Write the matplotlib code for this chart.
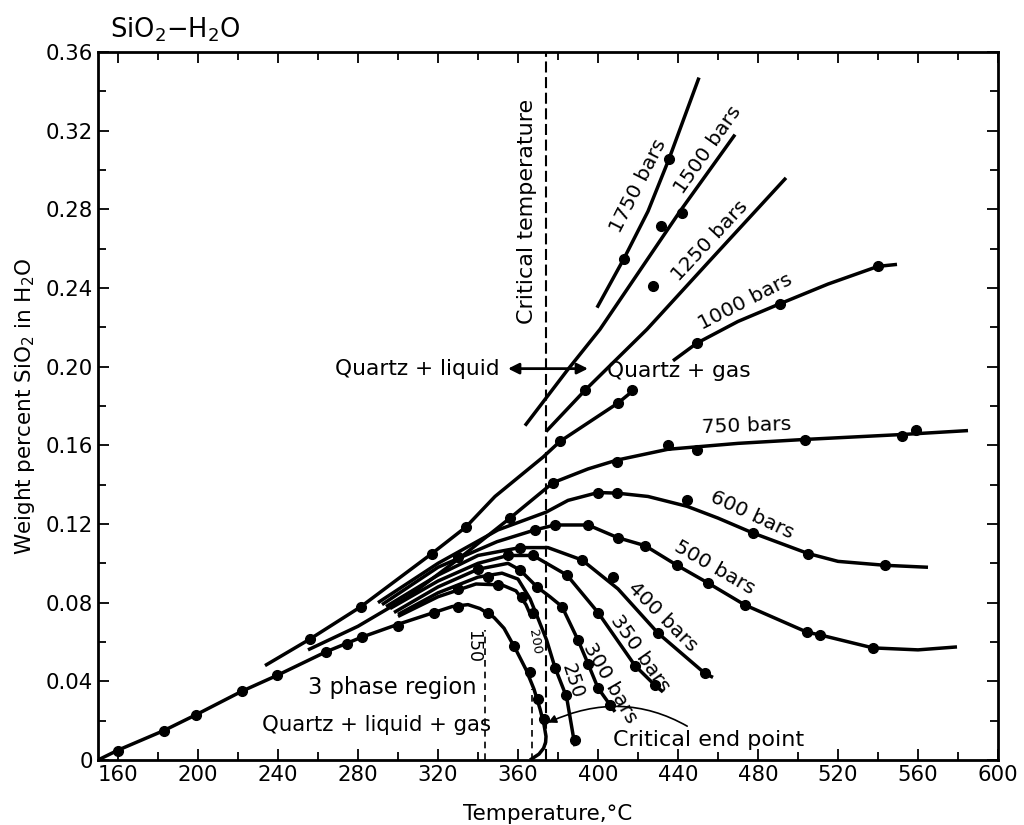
import numpy as np
import matplotlib
matplotlib.use("Agg")
import matplotlib.pyplot as plt

plt.rcParams['font.family'] = ['DejaVu Sans']
plt.rcParams['mathtext.default'] = 'regular'

# Isobar curves, temperature (C) and weight percent SiO2
t_3phase = [150, 160, 183, 199, 222, 239.5, 264, 282, 300, 315, 327, 335, 341, 348, 353, 359, 364, 368, 371, 373, 374, 373.8, 372.8, 370.5, 366]
v_3phase = [0, 0.005, 0.015, 0.023, 0.035, 0.043, 0.055, 0.0625, 0.069, 0.074, 0.078, 0.079, 0.077, 0.0725, 0.067, 0.056, 0.046, 0.036, 0.026, 0.018, 0.012, 0.009, 0.006, 0.003, 0]

t_200 = [300, 320, 339, 352, 359, 364, 367]
v_200 = [0.073, 0.083, 0.0895, 0.089, 0.086, 0.079, 0.072]

t_250 = [300, 320, 340, 352, 360, 366, 370, 374.3, 378.5, 384.3, 388.5]
v_250 = [0.074, 0.085, 0.093, 0.095, 0.092, 0.082, 0.072, 0.061, 0.047, 0.032, 0.007]

t_300 = [298, 320, 340, 355, 361, 369.5, 376, 382, 390, 395, 400, 408.5]
v_300 = [0.075, 0.088, 0.097, 0.100, 0.0966, 0.088, 0.083, 0.078, 0.061, 0.049, 0.0366, 0.0245]

t_350 = [296, 320, 340, 355, 367.5, 384.5, 400, 418.5, 428.5, 432.5]
v_350 = [0.077, 0.091, 0.100, 0.104, 0.104, 0.094, 0.075, 0.048, 0.038, 0.0346]

t_400 = [294, 320, 340, 361, 375, 392, 410, 430, 453.5, 457.5]
v_400 = [0.078, 0.094, 0.104, 0.108, 0.108, 0.1017, 0.087, 0.0645, 0.044, 0.042]

t_500 = [292, 320, 349.5, 368.5, 378.5, 395, 410, 423.5, 439.5, 455, 473.5, 504.5, 511, 537.5, 560, 579.5]
v_500 = [0.079, 0.098, 0.111, 0.117, 0.1195, 0.1195, 0.113, 0.109, 0.099, 0.090, 0.0788, 0.065, 0.0636, 0.057, 0.056, 0.0575]

t_600 = [290, 320, 350, 374, 385, 400, 409.5, 425, 444.5, 460, 477.5, 505, 520, 543.5, 565]
v_600 = [0.080, 0.100, 0.117, 0.126, 0.132, 0.136, 0.1357, 0.134, 0.129, 0.123, 0.1154, 0.105, 0.101, 0.099, 0.098]

t_750 = [255, 280, 305, 330, 356, 377.5, 395, 409.5, 435, 470, 503.5, 552, 585]
v_750 = [0.056, 0.068, 0.083, 0.102, 0.123, 0.141, 0.148, 0.1525, 0.158, 0.161, 0.163, 0.1655, 0.1675]

t_1000a = [233.5, 256, 281.5, 317, 334, 348.5, 372.5, 381, 410, 419]
v_1000a = [0.048, 0.0615, 0.078, 0.105, 0.1185, 0.134, 0.154, 0.162, 0.1815, 0.189]
t_1000b = [437.5, 449.5, 470, 491, 515, 540, 549.5]
v_1000b = [0.203, 0.212, 0.223, 0.232, 0.242, 0.251, 0.252]

t_1250 = [374, 393.5, 424.5, 456, 494]
v_1250 = [0.167, 0.188, 0.219, 0.254, 0.296]

t_1500 = [363.5, 384.5, 401, 441, 468.5]
v_1500 = [0.170, 0.198, 0.219, 0.279, 0.318]

t_1750 = [399.5, 413, 425, 435.5, 450.5]
v_1750 = [0.230, 0.255, 0.279, 0.3056, 0.347]

# measured points
pt_t = [160, 183, 199, 222, 239.5, 264, 274.5, 282, 300, 318, 330,
        345, 358, 366, 370, 373,
        330, 350, 362,
        345, 367.5, 378.5, 384, 388.5,
        340, 361, 369.5, 382, 390, 395, 400, 406,
        355, 367.5, 384.5, 400, 418.5, 428.5,
        361, 392, 407.5, 430, 453.5,
        368.5, 378.5, 395, 410, 423.5, 439.5, 455, 473.5, 504.5, 511, 537.5,
        400, 409.5, 444.5, 477.5, 505, 543.5,
        330, 356, 377.5, 409.5, 435, 449.5, 503.5, 552, 559,
        256, 281.5, 317, 334, 381, 410, 417, 449.5, 491, 540,
        393.5, 442, 413, 435.5, 431.5, 427.5]
pt_v = [0.0046, 0.0147, 0.023, 0.035, 0.043, 0.055, 0.059, 0.0625, 0.068, 0.075, 0.078,
        0.075, 0.058, 0.045, 0.031, 0.021,
        0.087, 0.089, 0.083,
        0.093, 0.0747, 0.047, 0.033, 0.010,
        0.097, 0.0966, 0.088, 0.078, 0.061, 0.049, 0.0366, 0.028,
        0.104, 0.104, 0.094, 0.075, 0.048, 0.038,
        0.108, 0.1017, 0.093, 0.0645, 0.044,
        0.117, 0.1195, 0.1195, 0.113, 0.109, 0.099, 0.090, 0.0788, 0.065, 0.0636, 0.057,
        0.136, 0.1357, 0.132, 0.1154, 0.105, 0.099,
        0.103, 0.123, 0.141, 0.1515, 0.160, 0.1576, 0.1627, 0.165, 0.1678,
        0.0615, 0.078, 0.105, 0.1185, 0.162, 0.1815, 0.188, 0.212, 0.232, 0.251,
        0.188, 0.278, 0.255, 0.3056, 0.2715, 0.241]

curves = [(t_3phase, v_3phase), (t_200, v_200), (t_250, v_250), (t_300, v_300),
          (t_350, v_350), (t_400, v_400), (t_500, v_500), (t_600, v_600),
          (t_750, v_750), (t_1000a, v_1000a), (t_1000b, v_1000b),
          (t_1250, v_1250), (t_1500, v_1500), (t_1750, v_1750)]

# text labels: (text, T, v, rotation, fontsize)
bar_labels = [("1750 bars", 420, 0.292, 63, 14.6),
              ("1500 bars", 455, 0.310, 55, 14.6),
              ("1250 bars", 456, 0.264, 47, 14.6),
              ("1000 bars", 473.5, 0.233, 27, 14.6),
              ("750 bars", 474.5, 0.170, 2, 14.6),
              ("600 bars", 477, 0.1245, -25, 14.6),
              ("500 bars", 458.5, 0.098, -30, 14.6),
              ("400 bars", 432.5, 0.073, -45, 14.6),
              ("350 bars", 421, 0.054, -55, 14.6),
              ("300 bars", 406, 0.039, -60, 14.6),
              ("250", 387, 0.040, -72, 13.5),
              ("200", 368.5, 0.060, -80, 9.5),
              ("150", 337.5, 0.0575, -90, 12.5)]

fig = plt.figure(figsize=(10.24, 8.25), dpi=100)
ax = fig.add_axes([98 / 1024, 1 - 760 / 825, 900 / 1024, 708 / 825])

for t, v in curves:
    ax.plot(t, v, color='black', lw=2.5, solid_capstyle='butt', zorder=3)
ax.plot(pt_t, pt_v, 'o', color='black', ms=7, zorder=4)

# critical temperature and boiling lines
ax.axvline(374, color='black', lw=1.5, ls=(0, (5.3, 2.2)), zorder=2)
ax.plot([343.5, 343.5], [0, 0.066], color='black', lw=1.2, ls=(0, (4, 3)))
ax.plot([367, 367], [0, 0.036], color='black', lw=1.2, ls=(0, (4, 3)))

for txt, t, v, rot, fs in bar_labels:
    ax.text(t, v, txt, rotation=rot, fontsize=fs, ha='center', va='center',
            rotation_mode='anchor')

ax.text(364.5, 0.279, "Critical temperature", rotation=90, fontsize=16,
        ha='center', va='center')
ax.text(351, 0.199, "Quartz + liquid", fontsize=15.7, ha='right', va='center')
ax.text(404.5, 0.198, "Quartz + gas", fontsize=15.7, ha='left', va='center')
ax.annotate('', xy=(355, 0.199), xytext=(395, 0.199),
            arrowprops=dict(arrowstyle='<|-|>', color='black', lw=2,
                            mutation_scale=16, shrinkA=0, shrinkB=0), zorder=5)
ax.text(339, 0.037, "3 phase region", fontsize=16.3, ha='right', va='center')
ax.text(232, 0.018, "Quartz + liquid + gas", fontsize=15.3, ha='left', va='center')
ax.annotate("Critical end point", xy=(375, 0.019), xytext=(407.5, 0.010),
            fontsize=16, ha='left', va='center',
            arrowprops=dict(arrowstyle='-|>', color='black', lw=1.2,
                            mutation_scale=12, shrinkA=2, shrinkB=0,
                            connectionstyle='arc3,rad=0.3'))

ax.set_xlim(150, 600)
ax.set_ylim(0, 0.36)
ax.set_xticks(np.arange(160, 601, 40))
ax.set_xticks(np.arange(160, 601, 20), minor=True)
ax.set_yticks(np.arange(0, 0.361, 0.04))
ax.set_yticks(np.arange(0, 0.361, 0.02), minor=True)
ax.set_yticklabels(["0"] + ["%.2f" % y for y in np.arange(0.04, 0.361, 0.04)])
ax.tick_params(which='both', direction='in', top=True, right=True, width=1.3,
               labelsize=15.3)
ax.tick_params(which='major', length=8)
ax.tick_params(which='minor', length=6)
for s in ax.spines.values():
    s.set_linewidth(2)

ax.set_xlabel("Temperature,°C", fontsize=15.5, labelpad=14)
ax.set_ylabel("Weight percent SiO$_2$ in H$_2$O", fontsize=15.5, labelpad=6)
fig.text(110 / 1024, 1 - 30 / 825, "SiO$_2$$-$H$_2$O", fontsize=18.5, ha='left', va='center')

fig.savefig("out.png", dpi=100)
